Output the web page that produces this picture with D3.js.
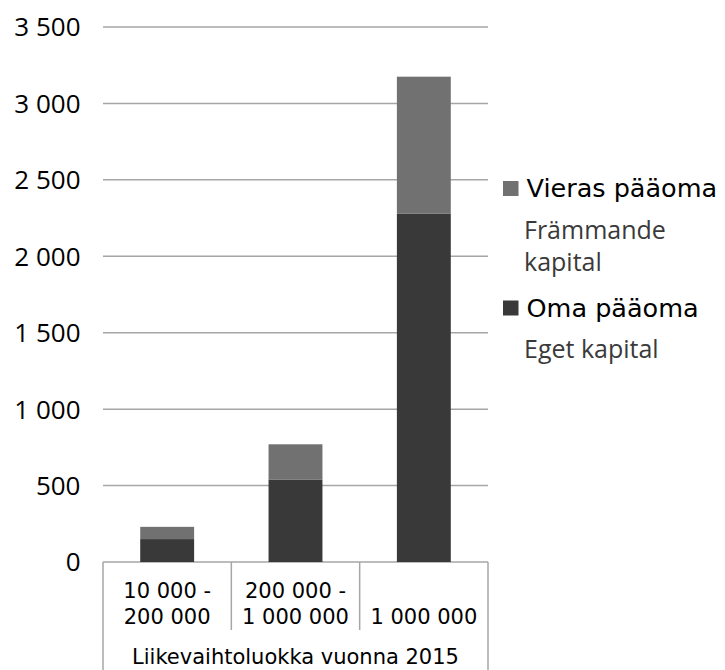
<!DOCTYPE html>
<html><head><meta charset="utf-8">
<script src="https://cdn.jsdelivr.net/npm/d3@7"></script>
<style>body{margin:0;background:#fff}svg{display:block}</style>
</head><body>
<script>
const categories = [["10 000 -","200 000"],["200 000 -","1 000 000"],["","1 000 000"]];
const omaPaaoma = [150, 540, 2280];
const vierasPaaoma = [80, 230, 895];
const yTicks = [0,500,1000,1500,2000,2500,3000,3500];
const axisTitle = "Liikevaihtoluokka vuonna 2015";
const seriesNames = [["Vieras pääoma",["Främmande","kapital"]],["Oma pääoma",["Eget kapital"]]];
const colors = {oma:"#393939", vieras:"#717171", grid:"#a6a6a6"};

(function(){
const W=725,H=670;
const svg=d3.select("body").append("svg").attr("width",W).attr("height",H);
const pLeft=103,pRight=488,pTop=27,pBottom=562;
const x=d3.scaleBand().domain(d3.range(categories.length)).range([pLeft,pRight]);
const y=d3.scaleLinear().domain([0,3500]).range([pBottom,pTop]);
const fmt=d3.formatLocale({decimal:",",thousands:" ",grouping:[3]}).format(",d");

svg.append("g").selectAll("line").data(yTicks).join("line")
  .attr("x1",pLeft).attr("x2",pRight).attr("y1",d=>y(d)).attr("y2",d=>y(d))
  .attr("stroke",colors.grid).attr("stroke-width",1.5);
svg.append("g").selectAll("text").data(yTicks).join("text")
  .attr("x",80.5).attr("y",d=>y(d)).attr("dy","0.36em").attr("text-anchor","end")
  .attr("font-family","Open Sans, Noto Sans").attr("font-size",26).attr("fill","#000")
  .text(d=>fmt(d));

const bw=x.bandwidth()*0.42;
const g=svg.append("g");
g.selectAll("rect.oma").data(omaPaaoma).join("rect").attr("class","oma")
  .attr("x",(d,i)=>x(i)+(x.bandwidth()-bw)/2).attr("width",bw)
  .attr("y",d=>y(d)).attr("height",d=>y(0)-y(d)).attr("fill",colors.oma);
g.selectAll("rect.vieras").data(vierasPaaoma).join("rect").attr("class","vieras")
  .attr("x",(d,i)=>x(i)+(x.bandwidth()-bw)/2).attr("width",bw)
  .attr("y",(d,i)=>y(d+omaPaaoma[i])).attr("height",(d,i)=>y(omaPaaoma[i])-y(d+omaPaaoma[i])).attr("fill",colors.vieras);

const ax=svg.append("g").attr("stroke",colors.grid).attr("stroke-width",1.5);
const bounds=d3.range(categories.length+1).map(i=>i<categories.length?x(i):pRight);
bounds.forEach((bx,i)=>{
  const outer=(i===0||i===categories.length);
  ax.append("line").attr("x1",bx).attr("x2",bx).attr("y1",pBottom).attr("y2",outer?H:630);
});
const ct=svg.append("g").attr("font-family","DejaVu Sans, Verdana").attr("font-size",21).attr("fill","#000").attr("text-anchor","middle");
categories.forEach((c,i)=>{
  c.forEach((t,j)=>{ if(t) ct.append("text").attr("x",x(i)+x.bandwidth()/2).attr("y",598+j*25.5).text(t); });
});
ct.append("text").attr("x",(pLeft+pRight)/2).attr("y",664).text(axisTitle);

const leg=svg.append("g");
const legY=[197,316.5];
const legCol=[colors.vieras,colors.oma];
seriesNames.forEach((s,i)=>{
  leg.append("rect").attr("x",503).attr("y",legY[i]-16).attr("width",15.5).attr("height",15).attr("fill",legCol[i]);
  leg.append("text").attr("x",526.5).attr("y",legY[i]).attr("font-family","DejaVu Sans, Verdana").attr("font-size",25.5).attr("fill","#000").text(s[0]);
  s[1].forEach((t,j)=>{
    leg.append("text").attr("x",524).attr("y",legY[i]+41.5+j*32).attr("font-family","Open Sans, Noto Sans").attr("font-size",25).attr("fill","#3a3a3a").text(t);
  });
});
})();
</script>
</body></html>
